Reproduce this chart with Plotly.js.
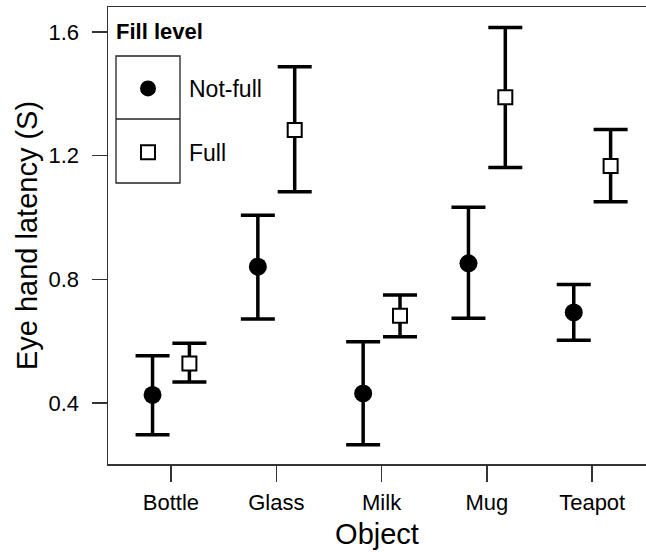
<!DOCTYPE html>
<html>
<head>
<meta charset="utf-8">
<script src="https://cdn.plot.ly/plotly-3.0.1.min.js"></script>
<style>html,body{margin:0;padding:0;background:#fff;}#chart{width:646px;height:558px;}</style>
</head>
<body>
<div id="chart"></div>
<script>
const objects = ["Bottle", "Glass", "Milk", "Mug", "Teapot"];
const notFullMean = [0.426, 0.841, 0.431, 0.852, 0.693];
const notFullUpper = [0.553, 1.007, 0.598, 1.033, 0.783];
const notFullLower = [0.297, 0.672, 0.265, 0.674, 0.603];
const fullMean = [0.528, 1.283, 0.682, 1.389, 1.167];
const fullUpper = [0.593, 1.488, 0.749, 1.615, 1.285];
const fullLower = [0.468, 1.083, 0.614, 1.162, 1.051];
const yTicks = [0.4, 0.8, 1.2, 1.6];

const FONT = "Liberation Sans, Arial, Helvetica, sans-serif";
const up = (u, m) => u.map((v, i) => v - m[i]);
const down = (l, m) => l.map((v, i) => m[i] - v);

const traces = [
  {
    type: "scatter", mode: "markers", name: "Not-full", legendgroup: "a",
    x: objects, y: notFullMean,
    marker: {symbol: "circle", size: 18, color: "#000"},
    error_y: {type: "data", symmetric: false, array: up(notFullUpper, notFullMean),
      arrayminus: down(notFullLower, notFullMean), color: "#000", thickness: 3.5, width: 17}
  },
  {
    type: "scatter", mode: "markers", name: "Full", legendgroup: "b",
    x: objects, y: fullMean,
    marker: {symbol: "square", size: 14, color: "#fff", line: {color: "#000", width: 2}},
    error_y: {type: "data", symmetric: false, array: up(fullUpper, fullMean),
      arrayminus: down(fullLower, fullMean), color: "#000", thickness: 3.5, width: 17}
  }
];

// legend key boxes (pixel -> paper)
const L = 108, R = 646, T = 7, B = 464;
const px = x => (x - L) / (R - L);
const py = y => (B - y) / (B - T);
const boxLine = {color: "#222", width: 1.3};

const layout = {
  width: 646, height: 558,
  margin: {l: L, r: 646 - R, t: T, b: 558 - B},
  paper_bgcolor: "#fff", plot_bgcolor: "#fff",
  font: {family: FONT, color: "#000"},
  showlegend: true,
  scattermode: "group", scattergap: 0.3,
  xaxis: {
    type: "category", range: [-0.598, 4.511],
    showline: true, linecolor: "#333", linewidth: 1.5, mirror: true,
    ticks: "outside", ticklen: 16, tickwidth: 1.5, tickcolor: "#333",
    ticklabelstandoff: 2,
    showgrid: false, zeroline: false,
    tickfont: {size: 22, family: FONT, color: "#000"},
    title: {text: "Object", font: {size: 29, family: FONT, color: "#000"}, standoff: 10}
  },
  yaxis: {
    range: [0.2027, 1.681], tickvals: yTicks, ticktext: yTicks.map(v => v.toFixed(1)),
    showline: true, linecolor: "#333", linewidth: 1.5, mirror: false,
    ticks: "outside", ticklen: 15, tickwidth: 1.5, tickcolor: "#333",
    ticklabelstandoff: 8,
    showgrid: false, zeroline: false,
    tickfont: {size: 22, family: FONT, color: "#000"},
    title: {text: "Eye hand latency (S)", font: {size: 29, family: FONT, color: "#000"}, standoff: 2}
  },
  legend: {
    x: px(107), xanchor: "left", y: py(67), yanchor: "top",
    bgcolor: "rgba(0,0,0,0)", borderwidth: 0,
    itemwidth: 72, tracegroupgap: 31, traceorder: "grouped",
    font: {size: 23, family: FONT, color: "#000"}
  },
  annotations: [
    {text: "<b>Fill level</b>", xref: "paper", yref: "paper", x: px(114), y: py(32),
      xanchor: "left", yanchor: "middle", showarrow: false,
      font: {size: 22, family: FONT, color: "#000"}}
  ],
  shapes: [
    {type: "rect", xref: "paper", yref: "paper", x0: px(116), x1: px(180), y0: py(183), y1: py(56),
      line: boxLine, fillcolor: "#fff", layer: "above"},
    {type: "line", xref: "paper", yref: "paper", x0: px(116), x1: px(180), y0: py(119), y1: py(119),
      line: boxLine, layer: "above"}
  ]
};

Plotly.newPlot("chart", traces, layout, {displayModeBar: false, staticPlot: true});
</script>
</body>
</html>
